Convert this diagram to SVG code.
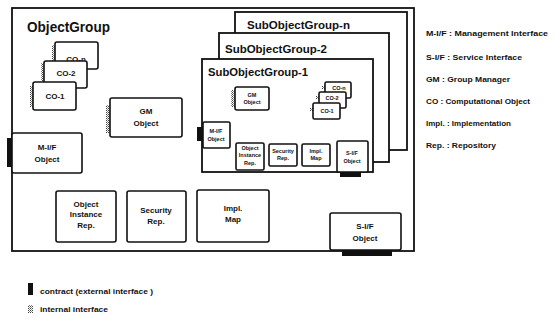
<svg xmlns="http://www.w3.org/2000/svg" width="556" height="320" viewBox="0 0 556 320">
<style>
text{font-family:"Liberation Sans",Arial,sans-serif;font-weight:bold;fill:#111}
.box{fill:#fff;stroke:#111;stroke-width:1.6}
.grp{fill:#fff;stroke:#111;stroke-width:1.8}
.t8{font-size:8px;text-anchor:middle}
.t6{font-size:5.5px;text-anchor:middle}
.leg{font-size:7.5px}
.contract{fill:#111}
.hatch{fill:url(#hatch)}
</style>
<defs>
<pattern id="hatch" width="2" height="2" patternUnits="userSpaceOnUse">
<rect width="2" height="2" fill="#fff"/>
<rect width="1" height="1" fill="#444"/>
<rect x="1" y="1" width="1" height="1" fill="#888"/>
</pattern>
</defs>
<rect width="556" height="320" fill="#fff"/>

<g id="ObjectGroup">
<rect class="grp" x="12" y="8" width="402" height="243"/>
<text x="27" y="32" style="font-size:14px" textLength="83" lengthAdjust="spacingAndGlyphs">ObjectGroup</text>
</g>

<g id="SubObjectGroup-n">
<rect class="grp" x="235" y="12" width="172" height="138"/>
<text x="247" y="29" style="font-size:11px" textLength="103" lengthAdjust="spacingAndGlyphs">SubObjectGroup-n</text>
</g>
<g id="SubObjectGroup-2">
<rect class="grp" x="219" y="33" width="170" height="129"/>
<text x="225" y="53" style="font-size:11px" textLength="102" lengthAdjust="spacingAndGlyphs">SubObjectGroup-2</text>
</g>
<g id="SubObjectGroup-1">
<rect class="grp" x="202" y="59" width="171" height="113"/>
<text x="208" y="76" style="font-size:11px" textLength="100" lengthAdjust="spacingAndGlyphs">SubObjectGroup-1</text>
</g>

<!-- ObjectGroup contents -->
<g id="CO-n">
<rect class="hatch" x="52" y="45" width="3" height="16"/>
<rect class="box" x="55" y="42" width="43" height="27" rx="2"/>
<text class="t8" x="76" y="62">CO-n</text>
</g>
<g id="CO-2">
<rect class="hatch" x="41" y="63" width="3" height="18"/>
<rect class="box" x="44" y="61" width="43" height="27" rx="2"/>
<text class="t8" x="66" y="76">CO-2</text>
</g>
<g id="CO-1">
<rect class="hatch" x="30" y="86" width="3" height="21"/>
<rect class="box" x="33" y="82" width="43" height="28" rx="2"/>
<text class="t8" x="55" y="99">CO-1</text>
</g>
<g id="GM-Object">
<rect class="hatch" x="106" y="105" width="4" height="28"/>
<rect class="box" x="110" y="98" width="72" height="39" rx="2"/>
<text class="t8" x="146" y="114">GM</text>
<text class="t8" x="146" y="126">Object</text>
</g>
<g id="MIF-Object">
<rect class="contract" x="7" y="138" width="6" height="29"/>
<rect class="box" x="12" y="133" width="70" height="40" rx="2"/>
<text class="t8" x="47" y="150">M-I/F</text>
<text class="t8" x="47" y="162">Object</text>
</g>
<g id="ObjectInstanceRep">
<rect class="box" x="56" y="191" width="60" height="51" rx="2"/>
<text class="t8" x="86" y="207">Object</text>
<text class="t8" x="86" y="217">Instance</text>
<text class="t8" x="86" y="228">Rep.</text>
</g>
<g id="SecurityRep">
<rect class="box" x="127" y="191" width="59" height="51" rx="2"/>
<text class="t8" x="156" y="213">Security</text>
<text class="t8" x="156" y="224">Rep.</text>
</g>
<g id="ImplMap">
<rect class="box" x="197" y="190" width="72" height="52" rx="2"/>
<text class="t8" x="233" y="211">Impl.</text>
<text class="t8" x="233" y="222">Map</text>
</g>
<g id="SIF-Object">
<rect class="contract" x="342" y="249" width="50" height="7"/>
<rect class="box" x="330" y="213" width="71" height="37" rx="2"/>
<text class="t8" x="365" y="229">S-I/F</text>
<text class="t8" x="365" y="241">Object</text>
</g>

<!-- SubObjectGroup-1 contents -->
<g id="S1-GM-Object">
<rect class="hatch" x="231" y="90" width="4" height="17"/>
<rect class="box" x="235" y="87" width="34" height="23" rx="2"/>
<text class="t6" x="252" y="97">GM</text>
<text class="t6" x="252" y="104">Object</text>
</g>
<g id="S1-CO-n">
<rect class="hatch" x="322" y="86" width="3" height="3"/>
<rect class="box" x="325" y="82" width="26" height="16" rx="1.5"/>
<text class="t6" x="339" y="90">CO-n</text>
</g>
<g id="S1-CO-2">
<rect class="hatch" x="316" y="96" width="3" height="3"/>
<rect class="box" x="319" y="92" width="27" height="16" rx="1.5"/>
<text class="t6" x="332" y="100">CO-2</text>
</g>
<g id="S1-CO-1">
<rect class="hatch" x="310" y="108" width="3" height="3"/>
<rect class="box" x="313" y="103" width="27" height="16" rx="1.5"/>
<text class="t6" x="327" y="113">CO-1</text>
</g>
<g id="S1-MIF-Object">
<rect class="contract" x="197" y="127" width="6" height="14"/>
<rect class="box" x="203" y="122" width="27" height="26" rx="1.5"/>
<text class="t6" x="216" y="133">M-I/F</text>
<text class="t6" x="216" y="141">Object</text>
</g>
<g id="S1-ObjectInstanceRep">
<rect class="box" x="236" y="143" width="28" height="27" rx="1.5"/>
<text class="t6" x="250" y="150">Object</text>
<text class="t6" x="250" y="157">Instance</text>
<text class="t6" x="250" y="165">Rep.</text>
</g>
<g id="S1-SecurityRep">
<rect class="box" x="269" y="144" width="28" height="22" rx="1.5"/>
<text class="t6" x="283" y="153">Security</text>
<text class="t6" x="283" y="160">Rep.</text>
</g>
<g id="S1-ImplMap">
<rect class="box" x="302" y="144" width="28" height="22" rx="1.5"/>
<text class="t6" x="316" y="153">Impl.</text>
<text class="t6" x="316" y="160">Map</text>
</g>
<g id="S1-SIF-Object">
<rect class="contract" x="340" y="171" width="21" height="6"/>
<rect class="box" x="337" y="141" width="31" height="31" rx="1.5"/>
<text class="t6" x="352" y="155">S-I/F</text>
<text class="t6" x="352" y="163">Object</text>
</g>

<g id="connectors"></g>

<g id="legend">
<text class="leg" x="426" y="36" textLength="122" lengthAdjust="spacingAndGlyphs">M-I/F : Management Interface</text>
<text class="leg" x="426" y="60" textLength="96" lengthAdjust="spacingAndGlyphs">S-I/F : Service Interface</text>
<text class="leg" x="426" y="82" textLength="84" lengthAdjust="spacingAndGlyphs">GM : Group Manager</text>
<text class="leg" x="426" y="104" textLength="104" lengthAdjust="spacingAndGlyphs">CO : Computational Object</text>
<text class="leg" x="426" y="126" textLength="85" lengthAdjust="spacingAndGlyphs">Impl. : Implementation</text>
<text class="leg" x="426" y="148" textLength="70" lengthAdjust="spacingAndGlyphs">Rep. : Repository</text>
<rect class="contract" x="28" y="283" width="5" height="12"/>
<text class="leg" x="40" y="294" textLength="113" lengthAdjust="spacingAndGlyphs">contract (external interface )</text>
<rect class="hatch" x="28" y="305" width="5" height="8"/>
<text class="leg" x="40" y="312" textLength="68" lengthAdjust="spacingAndGlyphs">internal interface</text>
</g>
</svg>
